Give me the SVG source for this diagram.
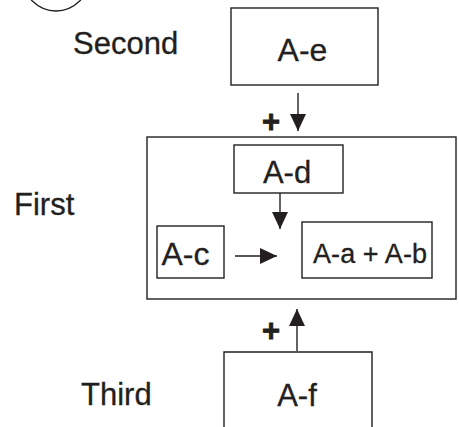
<svg xmlns="http://www.w3.org/2000/svg" width="459" height="427" viewBox="0 0 459 427">
<defs>
<style>
.box{fill:#fff;stroke:#231f20;stroke-width:1.4}
.t{font-family:"Liberation Sans",Arial,sans-serif;fill:#231f20;stroke:#231f20;stroke-width:0.3}
.lbl{font-size:31px}
.bt{text-anchor:middle}
.plus{font-size:31px;font-weight:bold;text-anchor:middle;stroke-width:0.8}
.ln{stroke:#231f20;stroke-width:1.4;fill:none}
</style>
<marker id="ah" markerWidth="17" markerHeight="16" viewBox="0 0 17 16" refX="17" refY="8" orient="auto" markerUnits="userSpaceOnUse">
<path d="M0,0 L17,8 L0,16 Z" fill="#231f20"/>
</marker>
</defs>
<rect width="459" height="427" fill="#fff"/>
<circle cx="56" cy="-22" r="33" fill="none" stroke="#231f20" stroke-width="1.3"/>
<g id="label-second"><text class="t lbl" x="73" y="54">Second</text></g>
<g id="label-first"><text class="t lbl" x="14" y="215">First</text></g>
<g id="label-third"><text class="t lbl" x="81" y="405">Third</text></g>
<g id="node-first"><rect class="box" x="147" y="137" width="309" height="162"/></g>
<g id="node-ae"><rect class="box" x="231" y="8" width="147" height="77"/><text class="t bt" x="302.5" y="61" font-size="32">A-e</text></g>
<g id="node-ad"><rect class="box" x="234" y="145" width="109" height="48"/><text class="t bt" x="287" y="183" font-size="31">A-d</text></g>
<g id="node-ac"><rect class="box" x="157" y="226" width="67" height="52"/><text class="t bt" x="185.5" y="265" font-size="32">A-c</text></g>
<g id="node-aab"><rect class="box" x="302" y="222" width="130" height="56"/><text class="t" x="313" y="263" font-size="27" textLength="114">A-a + A-b</text></g>
<g id="node-af"><path class="box" d="M224,428 L224,352 L372,352 L372,428"/><text class="t bt" x="297" y="406" font-size="31">A-f</text></g>
<g id="connectors">
<line class="ln" x1="298" y1="93" x2="298" y2="131" marker-end="url(#ah)"/>
<line class="ln" x1="280" y1="193" x2="280" y2="229" marker-end="url(#ah)"/>
<line class="ln" x1="235" y1="256" x2="277" y2="256" marker-end="url(#ah)"/>
<line class="ln" x1="297" y1="351" x2="297" y2="309" marker-end="url(#ah)"/>
<text class="t plus" x="271" y="132">+</text>
<text class="t plus" x="271" y="341">+</text>
</g>
</svg>
